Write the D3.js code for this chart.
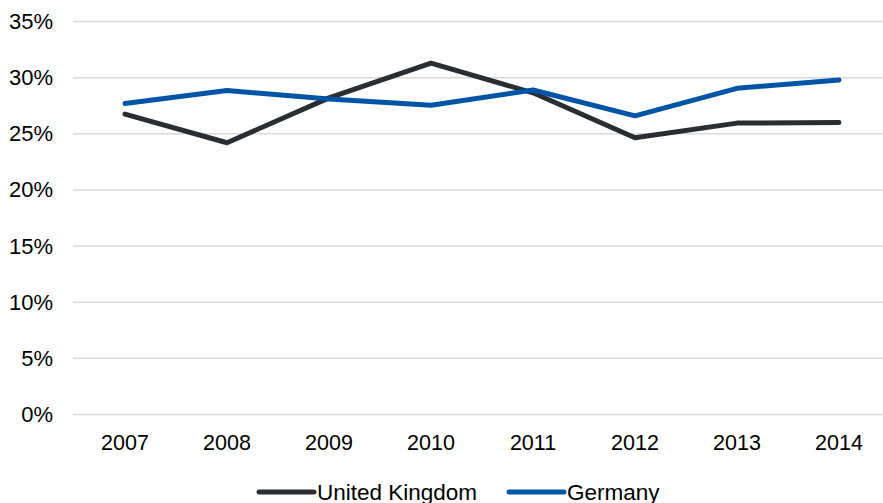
<!DOCTYPE html>
<html>
<head>
<meta charset="utf-8">
<script src="https://cdn.jsdelivr.net/npm/d3@7"></script>
<style>
  body { margin: 0; background: #fff; overflow: hidden; }
  svg { display: block; font-family: "Liberation Sans", Arial, sans-serif; }
</style>
</head>
<body>
<div id="chart"></div>
<script>
// data
const years = ["2007", "2008", "2009", "2010", "2011", "2012", "2013", "2014"];
const ukValues = [26.75, 24.2, 28.2, 31.3, 28.65, 24.65, 25.95, 26.0];
const germanyValues = [27.7, 28.85, 28.1, 27.55, 28.9, 26.6, 29.05, 29.8];
const yTicks = [0, 5, 10, 15, 20, 25, 30, 35];
const seriesNames = ["United Kingdom", "Germany"];
const seriesColours = ["#2a2d33", "#0054a6"];

(function () {
    let width = 883, height = 503;

    let margin = { top: 21.5, right: -7, bottom: 88.5, left: 74 };
    let innerW = width - margin.left - margin.right;
    let innerH = height - margin.top - margin.bottom;

    let svg = d3.select("#chart").append("svg")
        .attr("width", width)
        .attr("height", height);

    let g = svg.append("g")
        .attr("transform", "translate(" + margin.left + "," + margin.top + ")");

    let x = d3.scaleBand().domain(years).range([0, innerW]);
    let y = d3.scaleLinear().domain([0, 35]).range([innerH, 0]);

    // gridlines
    g.append("g")
        .selectAll("line")
        .data(yTicks)
        .enter()
        .append("line")
        .attr("x1", -1)
        .attr("x2", innerW)
        .attr("y1", function (d) { return y(d); })
        .attr("y2", function (d) { return y(d); })
        .attr("stroke", "#d9d9d9")
        .attr("stroke-width", 1.5);

    // y axis labels
    let yAxis = g.append("g")
        .call(d3.axisLeft(y).tickValues(yTicks).tickSize(0).tickPadding(21)
            .tickFormat(function (d) { return d + "%"; }));
    yAxis.select(".domain").remove();
    yAxis.selectAll("text")
        .style("font-size", "22px")
        .attr("fill", "#000");

    // x axis labels
    let xAxis = g.append("g")
        .attr("transform", "translate(0," + innerH + ")")
        .call(d3.axisBottom(x).tickSize(0).tickPadding(20));
    xAxis.select(".domain").remove();
    xAxis.selectAll("text")
        .style("font-size", "21.5px")
        .attr("fill", "#000");

    let line = d3.line()
        .x(function (d, i) { return x(years[i]) + x.bandwidth() / 2; })
        .y(function (d) { return y(d); });

    [ukValues, germanyValues].forEach(function (vals, i) {
        g.append("path")
            .datum(vals)
            .attr("fill", "none")
            .attr("stroke", seriesColours[i])
            .attr("stroke-width", 5)
            .attr("stroke-linecap", "round")
            .attr("stroke-linejoin", "round")
            .attr("d", line);
    });

    // legend
    let legendX = [259, 509];
    let legend = svg.append("g")
        .selectAll("g")
        .data(seriesNames)
        .enter()
        .append("g")
        .attr("transform", function (d, i) { return "translate(" + legendX[i] + ",492)"; });

    legend.append("line")
        .attr("x1", 0)
        .attr("x2", 55)
        .attr("stroke", function (d, i) { return seriesColours[i]; })
        .attr("stroke-width", 5)
        .attr("stroke-linecap", "round");

    legend.append("text")
        .attr("x", 58)
        .attr("y", 8)
        .style("font-size", "22.5px")
        .attr("fill", "#000")
        .text(function (d) { return d; });
})();
</script>
</body>
</html>
